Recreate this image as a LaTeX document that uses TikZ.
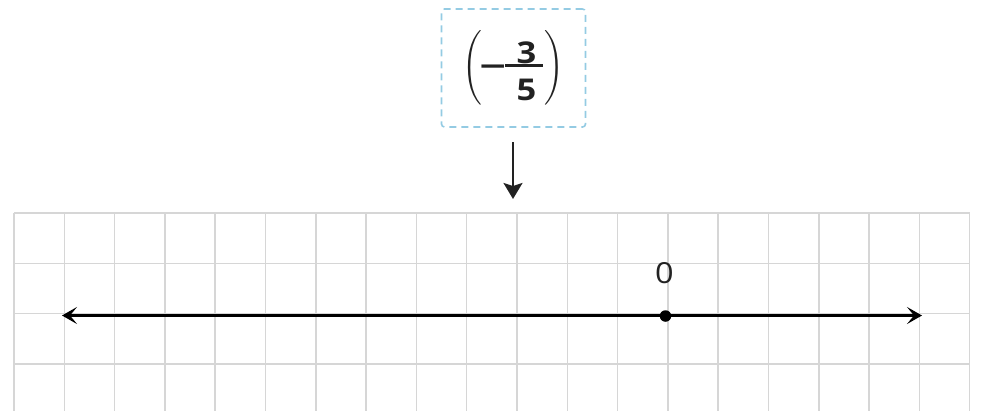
\documentclass[tikz,border=0pt]{standalone}
\usepackage{amsmath}
\usepackage{fontspec}
\setmainfont{Open Sans}
\usetikzlibrary{arrows.meta}
\definecolor{gridgray}{HTML}{D6D6D6}
\definecolor{boxblue}{HTML}{94CBE3}
\definecolor{inkgray}{HTML}{222222}
\tikzset{
  gridline/.style={draw=gridgray, line width=1.5pt},
  axisline/.style={draw=black, line width=3pt, {Stealth[length=15pt,width=17pt,inset=7pt]}-{Stealth[length=15pt,width=17pt,inset=7pt]}},
  pointer/.style={draw=inkgray, line width=2pt, -{Stealth[length=16pt,width=19pt,inset=3pt]}},
  answerbox/.style={draw=boxblue, line width=1.6pt, dash pattern=on 7pt off 5pt, minimum width=144pt, minimum height=118pt, inner sep=0pt, rounded corners=3pt},
  labeltext/.style={font=\fontsize{29}{34}\selectfont, inner sep=0pt, text=inkgray},
  digit/.style={font=\fontsize{30}{34}\selectfont\bfseries, inner sep=0pt, text=inkgray},
  minustext/.style={font=\fontsize{30}{34}\selectfont, inner sep=0pt, text=inkgray},
  paren/.style={font=\fontsize{30}{36}\selectfont, inner sep=0pt, text=inkgray},
  fracbar/.style={draw=inkgray, line width=2.2pt}
}
\newcommand{\tallparen}[1]{$\left#1\vrule height 30pt depth 30pt width 0pt\right.$}
\begin{document}
\begin{tikzpicture}[x=1pt,y=-1pt]
\useasboundingbox (0,0) rectangle (988,410);
% grid
\begin{scope}
\clip (0,0) rectangle (988,410);
\foreach \i in {0,...,19} {
  \draw[gridline] ({14+50.3*\i},213) -- ({14+50.3*\i},412);
}
\foreach \j in {0,...,3} {
  \draw[gridline] (14,{213+50.3*\j}) -- (970,{213+50.3*\j});
}
\end{scope}
% axis
\coordinate (L) at (62,315.5);
\coordinate (R) at (922,315.5);
\draw[axisline] (L) -- (R);
\node[circle, fill=black, inner sep=0pt, minimum size=11.5pt] (zero) at (665.5,316) {};
\node[labeltext] (zlabel) at (664.5,273) {\scalebox{1.12}[1]{0}};
% answer box
\node[answerbox] (box) at (513.5,68) {};
\node[paren] (lp) at (472.5,67.5) {\tallparen(};
\node[paren] (rp) at (554.5,67.5) {\tallparen)};
\node[minustext] (minus) at (493.5,83.5) {\smash{\scalebox{1.6}[1.6]{−}}};
\node[digit] (num) at (526.5,63) {\smash{\scalebox{1.15}[1]{3}}};
\node[digit] (den) at (526.5,100) {\smash{\scalebox{1.15}[1]{5}}};
\coordinate (barL) at (505,65.5);
\coordinate (barR) at (543,65.5);
\draw[fracbar] (barL) -- (barR);
% pointer
\coordinate (ptop) at (513,142);
\coordinate (pbot) at (513,199);
\draw[pointer] (ptop) -- (pbot);
\end{tikzpicture}
\end{document}
